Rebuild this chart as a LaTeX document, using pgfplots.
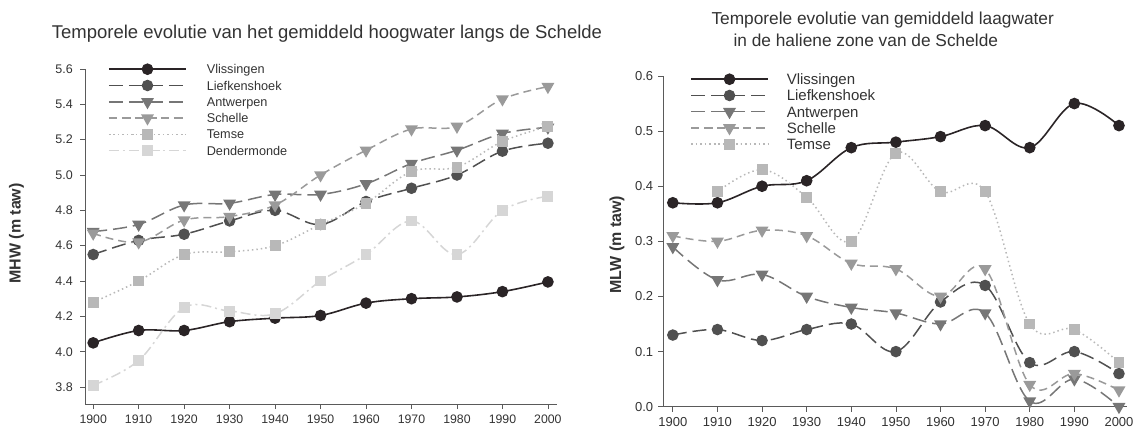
\documentclass[border=0pt]{standalone}
\usepackage{fontspec}
\setmainfont{Liberation Sans}
\usepackage{pgfplots}
\pgfplotsset{compat=1.18}

\definecolor{axgray}{HTML}{5A5A5A}
\definecolor{txgray}{HTML}{333333}
\definecolor{cVl}{HTML}{2A2426}
\definecolor{cLi}{HTML}{505050}
\definecolor{cAn}{HTML}{767676}
\definecolor{cSc}{HTML}{9A9A9A}
\definecolor{cTe}{HTML}{B8B8B8}
\definecolor{cDe}{HTML}{D6D6D6}

\pgfplotsset{
  schelde/.style={
    scale only axis,
    axis x line*=bottom, axis y line*=left,
    axis line style={draw=axgray, line width=0.8pt},
    tick style={draw=axgray, line width=0.8pt},
    tick align=outside, major tick length=5pt,
    xtick={1900,1910,...,2000},
    /pgf/number format/assume math mode=true,
    xticklabel style={/pgf/number format/set thousands separator={},
      text=txgray, inner sep=0pt, text height=9pt, text depth=0pt, yshift=-5.5pt},
    yticklabel style={/pgf/number format/fixed, /pgf/number format/fixed zerofill,
      /pgf/number format/precision=1, text=txgray, inner sep=0pt},
    y label style={font=\fontsize{16}{18}\selectfont\bfseries, text=txgray},
    clip=false,
    legend cell align=left,
    legend image code/.code={
      \draw[mark repeat=2, mark phase=2, ##1]
        plot coordinates {(0pt,0pt) (38.5pt,0pt) (77pt,0pt)};
    },
  },
  vl/.style={color=cVl, line width=1.6pt, smooth, tension=0.6,
    mark=*, mark size=5pt, mark options={solid, fill=cVl}},
  li/.style={color=cLi, line width=1.5pt, smooth, tension=0.6,
    dash pattern=on 14pt off 6pt, mark=*, mark size=5pt, mark options={solid, fill=cLi}},
  an/.style={color=cAn, line width=1.5pt, smooth, tension=0.6,
    dash pattern=on 14pt off 6pt, mark=triangle*, mark size=6pt,
    mark options={solid, fill=cAn, rotate=180}},
  sc/.style={color=cSc, line width=1.5pt, smooth, tension=0.6,
    dash pattern=on 8pt off 5pt, mark=triangle*, mark size=6pt,
    mark options={solid, fill=cSc, rotate=180}},
  te/.style={color=cTe, line width=1.5pt, smooth, tension=0.6,
    dash pattern=on 1.5pt off 3pt, mark=square*, mark size=4.7pt,
    mark options={solid, fill=cTe}},
  de/.style={color=cDe, line width=1.5pt, smooth, tension=0.6,
    dash pattern=on 10pt off 4pt on 2pt off 4pt, mark=square*, mark size=4.7pt,
    mark options={solid, fill=cDe}},
}

\begin{document}
\begin{tikzpicture}
\useasboundingbox (0,0) rectangle (1134pt,-433pt);

% titles
\node[anchor=base, text=txgray, font=\fontsize{18.5}{22}\selectfont] at (327pt,-39pt)
  {Temporele evolutie van het gemiddeld hoogwater langs de Schelde};
\node[anchor=base west, text=txgray, font=\fontsize{17.3}{21}\selectfont] at (708pt,-24.3pt)
  {Temporele evolutie van gemiddeld laagwater};
\node[anchor=base west, text=txgray, font=\fontsize{17.3}{21}\selectfont] at (730pt,-46.7pt)
  {in de haliene zone van de Schelde};

% left: high water
\begin{axis}[schelde,
  at={(85pt,-404pt)}, anchor=south west,
  width=472pt, height=335pt,
  xmin=1898.2, xmax=2002, ymin=3.704, ymax=5.6,
  ytick={3.8,4.0,...,5.6},
  xticklabel style={font=\fontsize{12.3}{14}\selectfont},
  yticklabel style={font=\fontsize{12.5}{14}\selectfont, xshift=-7pt},
  ylabel={MHW (m taw)},
  y label style={at={(axis description cs:-0.145,0.509)}, anchor=center},
  legend style={at={(0.0487,1.0243)}, anchor=north west, draw=none, fill=none,
    inner sep=0pt, row sep=0pt, column sep=20pt,
    font=\fontsize{12.7}{14}\selectfont,
    nodes={inner sep=0pt, minimum height=16.3pt, text height=9pt, text depth=0pt, text=txgray}},
]
\addplot[vl] coordinates {(1900,4.05)(1910,4.12)(1920,4.12)(1930,4.17)(1940,4.19)(1950,4.205)(1960,4.275)(1970,4.30)(1980,4.31)(1990,4.34)(2000,4.395)};
\addplot[li] coordinates {(1900,4.55)(1910,4.63)(1920,4.665)(1930,4.74)(1940,4.80)(1950,4.72)(1960,4.85)(1970,4.925)(1980,5.00)(1990,5.135)(2000,5.18)};
\addplot[an] coordinates {(1900,4.68)(1910,4.72)(1920,4.83)(1930,4.84)(1940,4.89)(1950,4.89)(1960,4.95)(1970,5.065)(1980,5.14)(1990,5.235)(2000,5.27)};
\addplot[sc] coordinates {(1900,4.67)(1910,4.62)(1920,4.745)(1930,4.765)(1940,4.83)(1950,5.00)(1960,5.14)(1970,5.26)(1980,5.275)(1990,5.43)(2000,5.50)};
\addplot[te] coordinates {(1900,4.28)(1910,4.40)(1920,4.55)(1930,4.565)(1940,4.60)(1950,4.72)(1960,4.84)(1970,5.02)(1980,5.045)(1990,5.19)(2000,5.275)};
\addplot[de] coordinates {(1900,3.81)(1910,3.95)(1920,4.25)(1930,4.23)(1940,4.215)(1950,4.40)(1960,4.55)(1970,4.74)(1980,4.55)(1990,4.80)(2000,4.88)};
\legend{Vlissingen,Liefkenshoek,Antwerpen,Schelle,Temse,Dendermonde}
\end{axis}

% right: low water
\begin{axis}[schelde,
  at={(663pt,-406.7pt)}, anchor=south west,
  width=464pt, height=330.7pt,
  xmin=1897.8, xmax=2001.8, ymin=0, ymax=0.6,
  ytick={0,0.1,...,0.6},
  xticklabel style={font=\fontsize{13}{15}\selectfont},
  yticklabel style={font=\fontsize{13}{15}\selectfont, xshift=-4.7pt},
  ylabel={MLW (m taw)},
  y label style={at={(axis description cs:-0.099,0.49)}, anchor=center},
  legend style={at={(0.0582,1.0154)}, anchor=north west, draw=none, fill=none,
    inner sep=0pt, row sep=0pt, column sep=18pt,
    font=\fontsize{15}{17}\selectfont,
    nodes={inner sep=0pt, minimum height=16.25pt, text height=10.7pt, text depth=0pt, text=txgray}},
]
\addplot[vl] coordinates {(1900,0.37)(1910,0.37)(1920,0.40)(1930,0.41)(1940,0.47)(1950,0.48)(1960,0.49)(1970,0.51)(1980,0.47)(1990,0.55)(2000,0.51)};
\addplot[li] coordinates {(1900,0.13)(1910,0.14)(1920,0.12)(1930,0.14)(1940,0.15)(1950,0.10)(1960,0.19)(1970,0.22)(1980,0.08)(1990,0.10)(2000,0.06)};
\addplot[an] coordinates {(1900,0.29)(1910,0.23)(1920,0.24)(1930,0.20)(1940,0.18)(1950,0.17)(1960,0.15)(1970,0.17)(1980,0.01)(1990,0.05)(2000,0.00)};
\addplot[sc] coordinates {(1900,0.31)(1910,0.30)(1920,0.32)(1930,0.31)(1940,0.26)(1950,0.25)(1960,0.20)(1970,0.25)(1980,0.04)(1990,0.06)(2000,0.03)};
\addplot[te] coordinates {(1910,0.39)(1920,0.43)(1930,0.38)(1940,0.30)(1950,0.46)(1960,0.39)(1970,0.39)(1980,0.15)(1990,0.14)(2000,0.08)};
\legend{Vlissingen,Liefkenshoek,Antwerpen,Schelle,Temse}
\end{axis}
\end{tikzpicture}
\end{document}
